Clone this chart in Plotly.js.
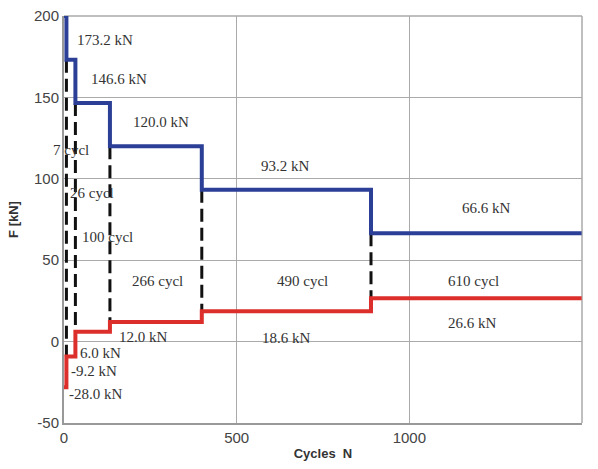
<!DOCTYPE html>
<html>
<head>
<meta charset="utf-8">
<script src="https://cdn.plot.ly/plotly-3.0.1.min.js"></script>
<style>html,body{margin:0;padding:0;background:#fff;}#chart{width:598px;height:469px;}</style>
</head>
<body>
<div id="chart"></div>
<script>
// Data
var blockCycles = [7, 26, 100, 266, 490, 610];
var upperForce = [200.0, 173.2, 146.6, 120.0, 93.2, 66.6];
var lowerForce = [-28.0, -9.2, 6.0, 12.0, 18.6, 26.6];
var upperLabels = ["173.2 kN", "146.6 kN", "120.0 kN", "93.2 kN", "66.6 kN"];
var lowerLabels = ["-28.0 kN", "-9.2 kN", "6.0 kN", "12.0 kN", "18.6 kN", "26.6 kN"];
var cycleLabels = ["7 cycl", "26 cycl", "100 cycl", "266 cycl", "490 cycl", "610 cycl"];
var xTicks = [0, 500, 1000, 1500];
var yTicks = [-50, 0, 50, 100, 150, 200];
var yTickText = ["-50", "0", "50", "100", "150", "200"];

// cumulative block boundaries
var bounds = [0];
blockCycles.forEach(function (c) { bounds.push(bounds[bounds.length - 1] + c); });
var upperY = upperForce.concat([upperForce[upperForce.length - 1]]);
var lowerY = lowerForce.concat([lowerForce[lowerForce.length - 1]]);

// dashed separators from upper level to lower level at each change
var dx = [], dy = [];
for (var k = 1; k < blockCycles.length; k++) {
  dx.push(bounds[k], bounds[k], null);
  dy.push(upperForce[k], lowerForce[k], null);
}

var traces = [
  {x: dx, y: dy, mode: 'lines', line: {color: '#111', width: 3, dash: '13px,6px'}, hoverinfo: 'skip', connectgaps: false},
  {x: bounds, y: upperY, mode: 'lines', line: {shape: 'hv', color: '#2b3f96', width: 4}},
  {x: bounds, y: lowerY, mode: 'lines', line: {shape: 'hv', color: '#dc2f2b', width: 4}}
];

var labelFont = {family: 'Liberation Serif', size: 15, color: '#333'};
function ann(text, x, y) {
  return {text: text, x: x, y: y, xref: 'x', yref: 'y', showarrow: false, font: labelFont};
}
var upperPos = [[118, 185], [158, 161], [282, 135], [641, 108], [1223, 82]];
var lowerPos = [[90, -32], [88, -18], [105, -6.8], [229, 3], [644, 2.5], [1182, 11.7]];
var cyclePos = [[20, 117.6], [80, 91], [125, 64], [272, 37.5], [690, 37.5], [1187, 37.5]];
var annotations = [];
upperLabels.forEach(function (t, i) { annotations.push(ann(t, upperPos[i][0], upperPos[i][1])); });
lowerLabels.forEach(function (t, i) { annotations.push(ann(t, lowerPos[i][0], lowerPos[i][1])); });
cycleLabels.forEach(function (t, i) { annotations.push(ann(t, cyclePos[i][0], cyclePos[i][1])); });

var layout = {
  width: 598, height: 469,
  margin: {l: 64, r: 16, t: 16, b: 46},
  paper_bgcolor: '#fff', plot_bgcolor: '#fff',
  showlegend: false,
  xaxis: {
    range: [0, 1500], tickvals: xTicks, ticks: '',
    showgrid: true, gridcolor: '#aaa', gridwidth: 1, zeroline: false,
    showline: true, linecolor: '#999', linewidth: 2, mirror: false,
    tickfont: {family: 'Liberation Sans, Arial, sans-serif', size: 15, color: '#444'},
    title: {text: 'Cycles  N', font: {family: 'Liberation Sans, Arial, sans-serif', size: 13, color: '#333', weight: 'bold'}, standoff: 4}
  },
  yaxis: {
    range: [-50, 200], tickvals: yTicks, ticktext: yTickText, ticks: '',
    showgrid: true, gridcolor: '#aaa', gridwidth: 1, zeroline: false,
    showline: true, linecolor: '#999', linewidth: 2, mirror: false,
    tickfont: {family: 'Liberation Sans, Arial, sans-serif', size: 15, color: '#444'},
    title: {text: 'F [kN]', font: {family: 'Liberation Sans, Arial, sans-serif', size: 13, color: '#333', weight: 'bold'}, standoff: 12}
  },
  shapes: [
    {type: 'line', xref: 'paper', yref: 'paper', x0: 0, x1: 1, y0: 1, y1: 1, line: {color: '#aaa', width: 1.5}, layer: 'below'},
    {type: 'line', xref: 'paper', yref: 'paper', x0: 1, x1: 1, y0: 0, y1: 1, line: {color: '#aaa', width: 1.5}, layer: 'below'}
  ],
  annotations: annotations
};

Plotly.newPlot('chart', traces, layout, {staticPlot: true, displayModeBar: false});
</script>
</body>
</html>
